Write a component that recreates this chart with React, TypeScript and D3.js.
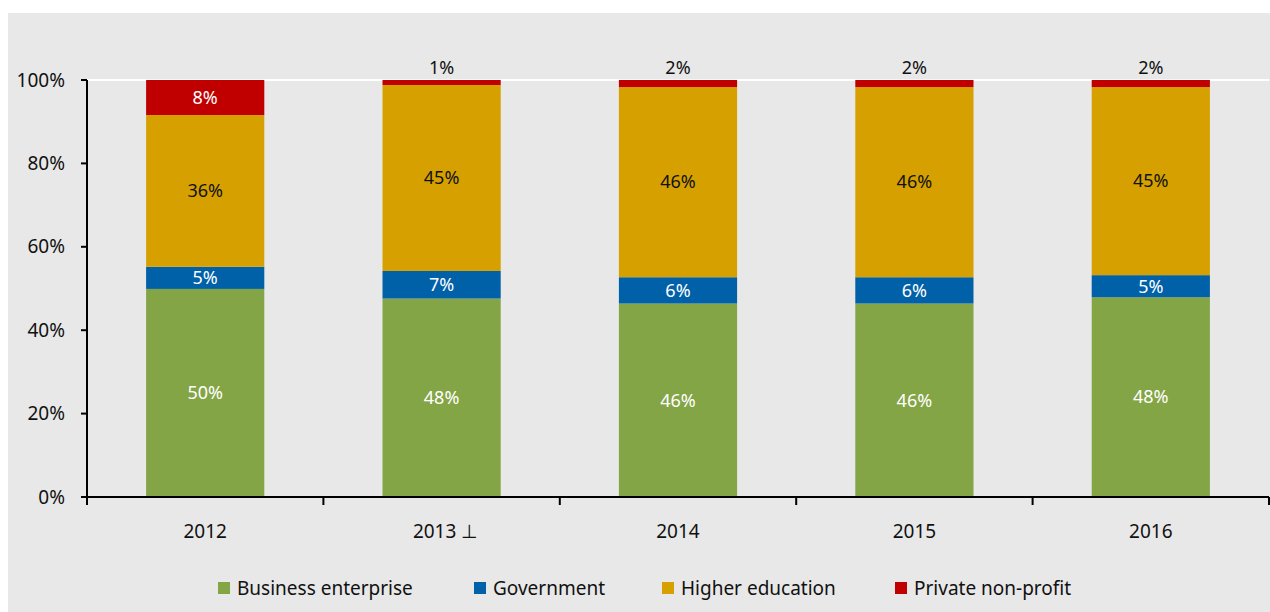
import React from 'react'
import * as d3 from 'd3'

const years = ['2012', '2013', '2014', '2015', '2016']
const yearLabels = ['2012', '2013 ⊥', '2014', '2015', '2016']

const seriesNames = ['Business enterprise', 'Government', 'Higher education', 'Private non-profit']
const business = [49.9, 47.6, 46.4, 46.4, 47.9]
const government = [5.3, 6.6, 6.3, 6.3, 5.3]
const higherEd = [36.4, 44.6, 45.6, 45.6, 45.1]
const privateNp = [8.4, 1.2, 1.7, 1.7, 1.7]

const yTicks = [0, 20, 40, 60, 80, 100]

const colors = ['#84a546', '#0060a8', '#d6a100', '#c00000']
const labelColors = ['#ffffff', '#ffffff', '#111111', '#ffffff']

const width = 1270
const height = 612
const margin = { top: 80, right: 1, bottom: 115, left: 87 }
const font = '"Noto Sans", sans-serif'

export default function App() {
    const rows = years.map((y, i) => ({
        year: y,
        b: business[i],
        g: government[i],
        h: higherEd[i],
        p: privateNp[i],
    }))
    const keys = ['b', 'g', 'h', 'p']
    const stacked = d3.stack<any>().keys(keys)(rows)

    const x = d3
        .scaleBand()
        .domain(years)
        .range([margin.left, width - margin.right])
        .padding(0)
    const barW = x.bandwidth() * 0.5

    const y = d3
        .scaleLinear()
        .domain([0, 100])
        .range([height - margin.bottom, margin.top])

    const y0 = y(0)
    const boundaries = d3.range(years.length + 1).map((i) => margin.left + i * x.step())

    // legend positions
    const legendX = [218, 474, 662, 895]

    return (
        <svg
            width={width}
            height={height}
            style={{ display: 'block', position: 'absolute', left: 0, top: 0 }}
        >
            <rect x={0} y={0} width={width} height={height} fill="#ffffff" />
            <rect x={8} y={13} width={width - 8} height={height - 13} fill="#e8e8e8" />

            {/* top gridline */}
            <line x1={margin.left} x2={width - margin.right} y1={y(100)} y2={y(100)} stroke="#ffffff" strokeWidth={2} />

            {/* bars */}
            {stacked.map((s, si) =>
                s.map((d, i) => {
                    const cx = x(years[i])! + x.bandwidth() / 2
                    const top = y(d[1])
                    const bot = y(d[0])
                    const v = d[1] - d[0]
                    const label = Math.round(v) + '%'
                    const inside = bot - top > 22
                    return (
                        <g key={si + '-' + i}>
                            <rect x={cx - barW / 2} y={top} width={barW} height={bot - top} fill={colors[si]} />
                            <text
                                x={cx}
                                y={inside ? (top + bot) / 2 : top - 12}
                                dy="0.35em"
                                textAnchor="middle"
                                fontFamily={font}
                                fontSize={18}
                                fill={inside ? labelColors[si] : '#111111'}
                            >
                                {label}
                            </text>
                        </g>
                    )
                })
            )}

            {/* y axis */}
            <line x1={margin.left} x2={margin.left} y1={y(100)} y2={y0} stroke="#000" strokeWidth={2} />
            {yTicks.map((t) => (
                <g key={t}>
                    <line x1={margin.left - 6} x2={margin.left} y1={y(t)} y2={y(t)} stroke="#000" strokeWidth={2} />
                    <text
                        x={margin.left - 22}
                        y={y(t)}
                        dy="0.35em"
                        textAnchor="end"
                        fontFamily={font}
                        fontSize={19}
                        fill="#111111"
                    >
                        {t + '%'}
                    </text>
                </g>
            ))}

            {/* x axis */}
            <line x1={margin.left} x2={width - margin.right} y1={y0} y2={y0} stroke="#000" strokeWidth={2} />
            {boundaries.map((bx, i) => (
                <line key={i} x1={bx} x2={bx} y1={y0} y2={y0 + 8} stroke="#000" strokeWidth={2} />
            ))}
            {yearLabels.map((lab, i) => (
                <text
                    key={lab}
                    x={x(years[i])! + x.bandwidth() / 2 + (i === 1 ? 4 : 0)}
                    y={y0 + 34}
                    dy="0.35em"
                    textAnchor="middle"
                    fontFamily={font}
                    fontSize={19}
                    fill="#111111"
                >
                    {lab}
                </text>
            ))}

            {/* legend */}
            {seriesNames.map((n, i) => (
                <g key={n}>
                    <rect x={legendX[i]} y={582} width={12} height={12} fill={colors[i]} />
                    <text
                        x={legendX[i] + 19}
                        y={588}
                        dy="0.35em"
                        fontFamily={font}
                        fontSize={19}
                        fill="#111111"
                    >
                        {n}
                    </text>
                </g>
            ))}
        </svg>
    )
}
